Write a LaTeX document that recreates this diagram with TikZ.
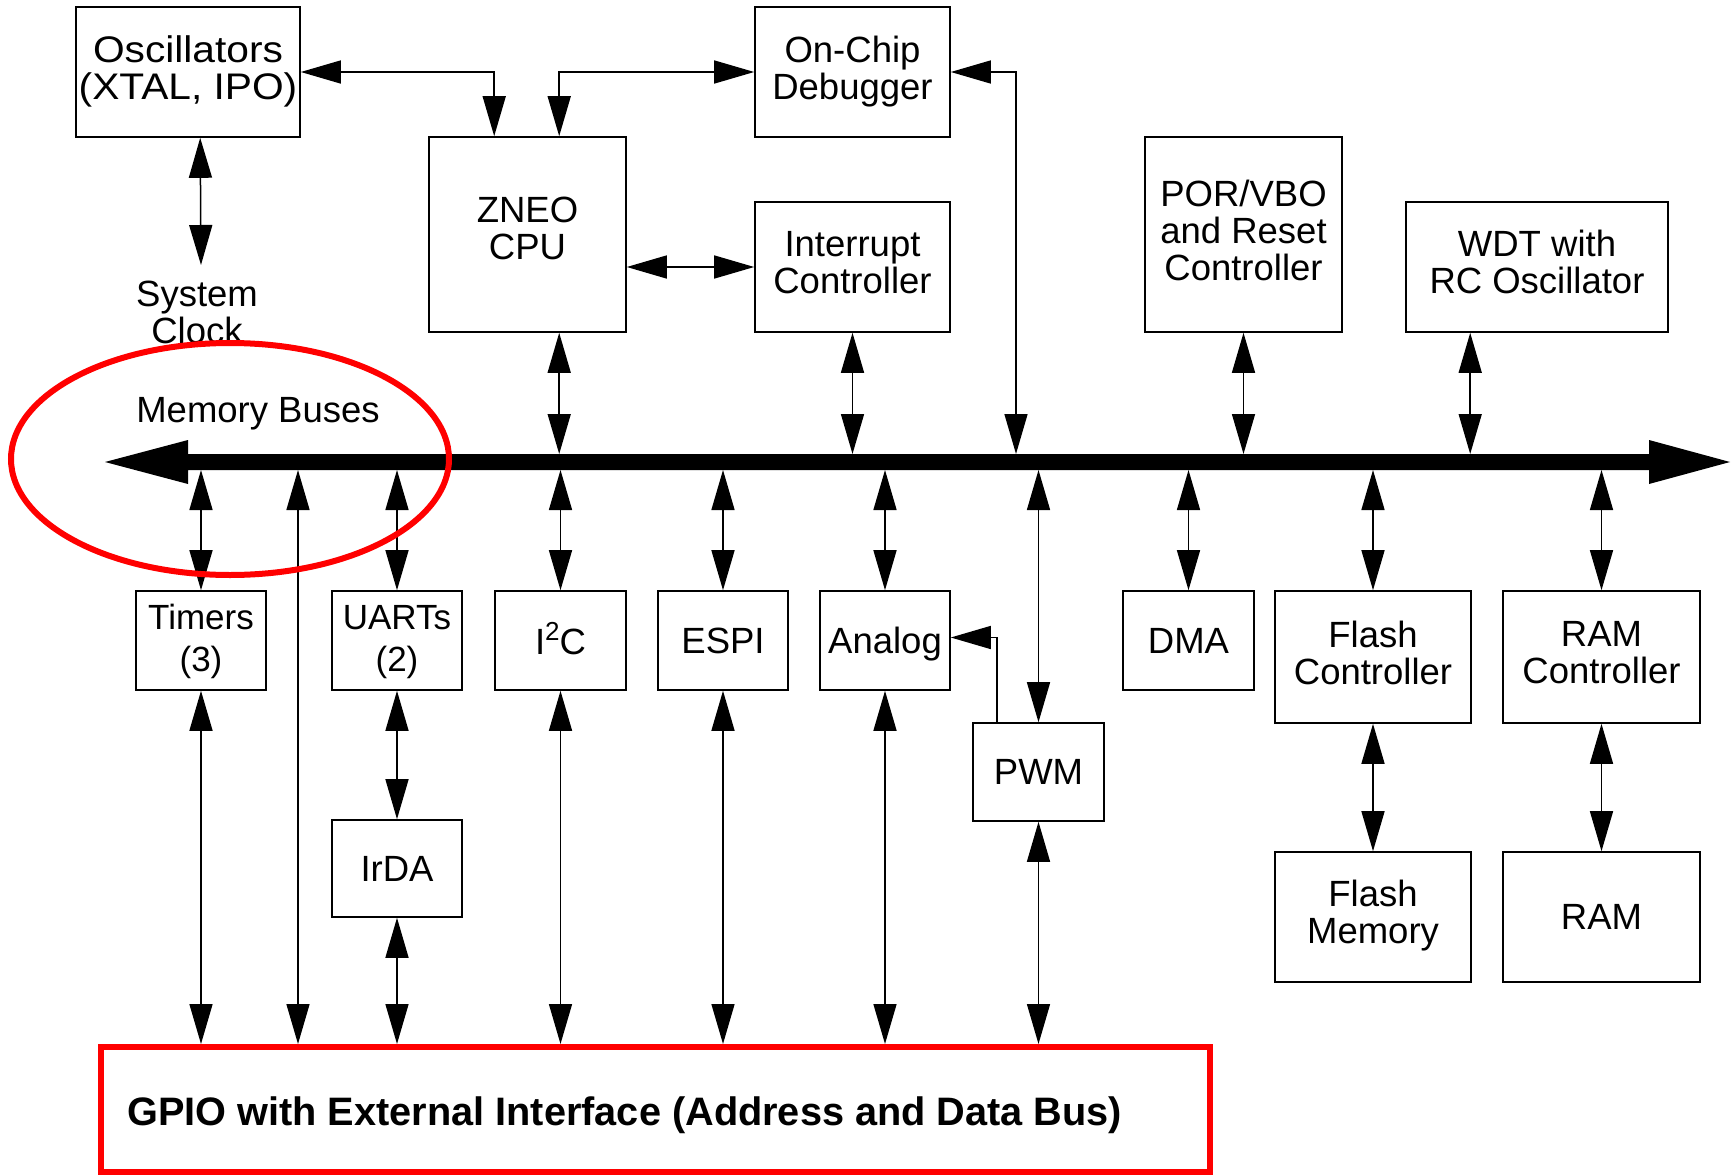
\documentclass[tikz,border=0pt]{standalone}
\usepackage{fontspec}
\setmainfont{Liberation Sans}
\newfontfamily\widesans[FakeStretch=1.1]{Liberation Sans}
\usetikzlibrary{arrows.meta}
\begin{document}
\begin{tikzpicture}[x=1pt,y=-1pt,
  lbl/.style={font=\fontsize{36.5}{37}\selectfont, align=center, inner sep=0pt},
  box/.style={draw, line width=1.6pt, align=center, inner sep=0pt, text depth=9pt,
    font=\fontsize{36.5}{37}\selectfont},
  one/.style={text depth=0pt},
  bi/.style={line width=1.5pt, {Triangle[length=40pt,width=23pt]}-{Triangle[length=40pt,width=23pt]}},
  uni/.style={line width=1.5pt, -{Triangle[length=40pt,width=23pt]}},
  hl/.style={draw=red, line width=6pt}]
\useasboundingbox (0,0) rectangle (1733,1175);

% top boxes
\node[box, minimum width=224pt, minimum height=130pt, font=\widesans\fontsize{37}{37}\selectfont]
  (osc) at (188,72) {Oscillators\\(XTAL, IPO)};
\node[box, minimum width=197pt, minimum height=195pt, text depth=12pt] (cpu) at (527.5,234.5) {ZNEO\\CPU};
\node[box, minimum width=195pt, minimum height=130pt] (dbg) at (852.5,72) {On-Chip\\Debugger};
\node[box, minimum width=195pt, minimum height=130pt] (intc) at (852.5,267) {Interrupt\\Controller};
\node[box, minimum width=197pt, minimum height=195pt] (por) at (1243.5,234.5) {POR/VBO\\and Reset\\Controller};
\node[box, minimum width=262pt, minimum height=130pt, text depth=11pt] (wdt) at (1537,267) {WDT with\\RC Oscillator};

% labels
\node[lbl] (sys) at (197,312) {System\\Clock};
\node[lbl] (mem) at (258,413.5) {Memory Buses};

% bottom boxes
\node[box, minimum width=130pt, minimum height=99pt, text depth=5pt, font=\fontsize{35}{42}\selectfont] (tim) at (201,640.5) {Timers\\(3)};
\node[box, minimum width=130pt, minimum height=99pt, text depth=5pt, font=\fontsize{35}{42}\selectfont] (uart) at (397,640.5) {UARTs\\(2)};
\node[box, one, text height=27pt, minimum width=131pt, minimum height=99pt] (i2c) at (560.5,640.5)
  {I\raisebox{14pt}{\fontsize{26}{26}\selectfont 2}C};
\node[box, one, minimum width=130pt, minimum height=99pt] (espi) at (723,640.5) {ESPI};
\node[box, one, minimum width=130pt, minimum height=99pt] (ana) at (885,640.5) {Analog};
\node[box, one, minimum width=131pt, minimum height=99pt] (dma) at (1188.5,640.5) {DMA};
\node[box, minimum width=196pt, minimum height=132pt] (flc) at (1373,657) {Flash\\Controller};
\node[box, minimum width=197pt, minimum height=132pt] (ramc) at (1601.5,657) {RAM\\Controller};
\node[box, one, minimum width=131pt, minimum height=98pt] (pwm) at (1038.5,772) {PWM};
\node[box, one, minimum width=130pt, minimum height=97pt] (irda) at (397,868.5) {IrDA};
\node[box, minimum width=196pt, minimum height=130pt, text depth=11pt] (flm) at (1373,917) {Flash\\Memory};
\node[box, one, minimum width=197pt, minimum height=130pt] (ram) at (1601.5,917) {RAM};

% GPIO
\node[hl, minimum width=1109pt, minimum height=125pt, inner sep=0pt] (gpio) at (655.5,1109.5) {};
\node[anchor=base west, inner sep=0pt, font=\fontsize{39.7}{40}\selectfont\bfseries] (gpiolbl)
  at (127,1125) {GPIO with External Interface (Address and Data Bus)};

% bus
\fill (105,462) -- (188,440) -- (188,454) -- (1649,454) -- (1649,440) -- (1730,462)
  -- (1649,484) -- (1649,470) -- (188,470) -- (188,484) -- cycle;
\coordinate (busT) at (0,454);
\coordinate (busB) at (0,470);

% helper coordinates
\coordinate (cpuA) at ([xshift=66pt]cpu.north west);
\coordinate (cpuB) at ([xshift=131pt]cpu.north west);
\coordinate (cpuC) at ([xshift=131pt]cpu.south west);
\coordinate (oscS) at ([xshift=125pt]osc.south west);
\coordinate (sysT) at (201,265);
\coordinate (dbgbus) at (1016,454);
\coordinate (wdtS) at ([xshift=65pt]wdt.south west);
\coordinate (extra) at (298,470);
\coordinate (pwmA) at ([xshift=25pt]pwm.north west);
\coordinate (anaE) at ([yshift=3pt]ana.east);

% top connectors
\draw[bi] (osc.east) -| (cpuA);
\draw[bi] (dbg.west) -| (cpuB);
\draw[bi] (cpuC) -- (cpuC |- busT);
\draw[bi] (oscS) -- (sysT);
\draw[bi] (intc.west) -- (intc.west -| cpu.east);
\draw[bi] (intc.south) -- (intc.south |- busT);
\draw[bi] (dbg.east) -| (dbgbus);
\draw[bi] (por.south) -- (por.south |- busT);
\draw[bi] (wdtS) -- (wdtS |- busT);

% bottom connectors
\draw[bi] (tim.north |- busB) -- (tim.north);
\draw[bi] (tim.south) -- (tim.south |- gpio.north);
\draw[bi] (extra) -- (extra |- gpio.north);
\draw[bi] (uart.north |- busB) -- (uart.north);
\draw[bi] (uart.south) -- (irda.north);
\draw[bi] (irda.south) -- (irda.south |- gpio.north);
\draw[bi] (i2c.north |- busB) -- (i2c.north);
\draw[bi] (i2c.south) -- (i2c.south |- gpio.north);
\draw[bi] (espi.north |- busB) -- (espi.north);
\draw[bi] (espi.south) -- (espi.south |- gpio.north);
\draw[bi] (ana.north |- busB) -- (ana.north);
\draw[bi] (ana.south) -- (ana.south |- gpio.north);
\draw[bi] (pwm.north |- busB) -- (pwm.north);
\draw[bi] (pwm.south) -- (pwm.south |- gpio.north);
\draw[uni] (pwmA) |- (anaE);
\draw[bi] (dma.north |- busB) -- (dma.north);
\draw[bi] (flc.north |- busB) -- (flc.north);
\draw[bi] (flc.south) -- (flm.north);
\draw[bi] (ramc.north |- busB) -- (ramc.north);
\draw[bi] (ramc.south) -- (ram.north);

% highlight ellipse
\draw[red, line width=6pt] (230,459) ellipse [x radius=219, y radius=116];
\end{tikzpicture}
\end{document}
